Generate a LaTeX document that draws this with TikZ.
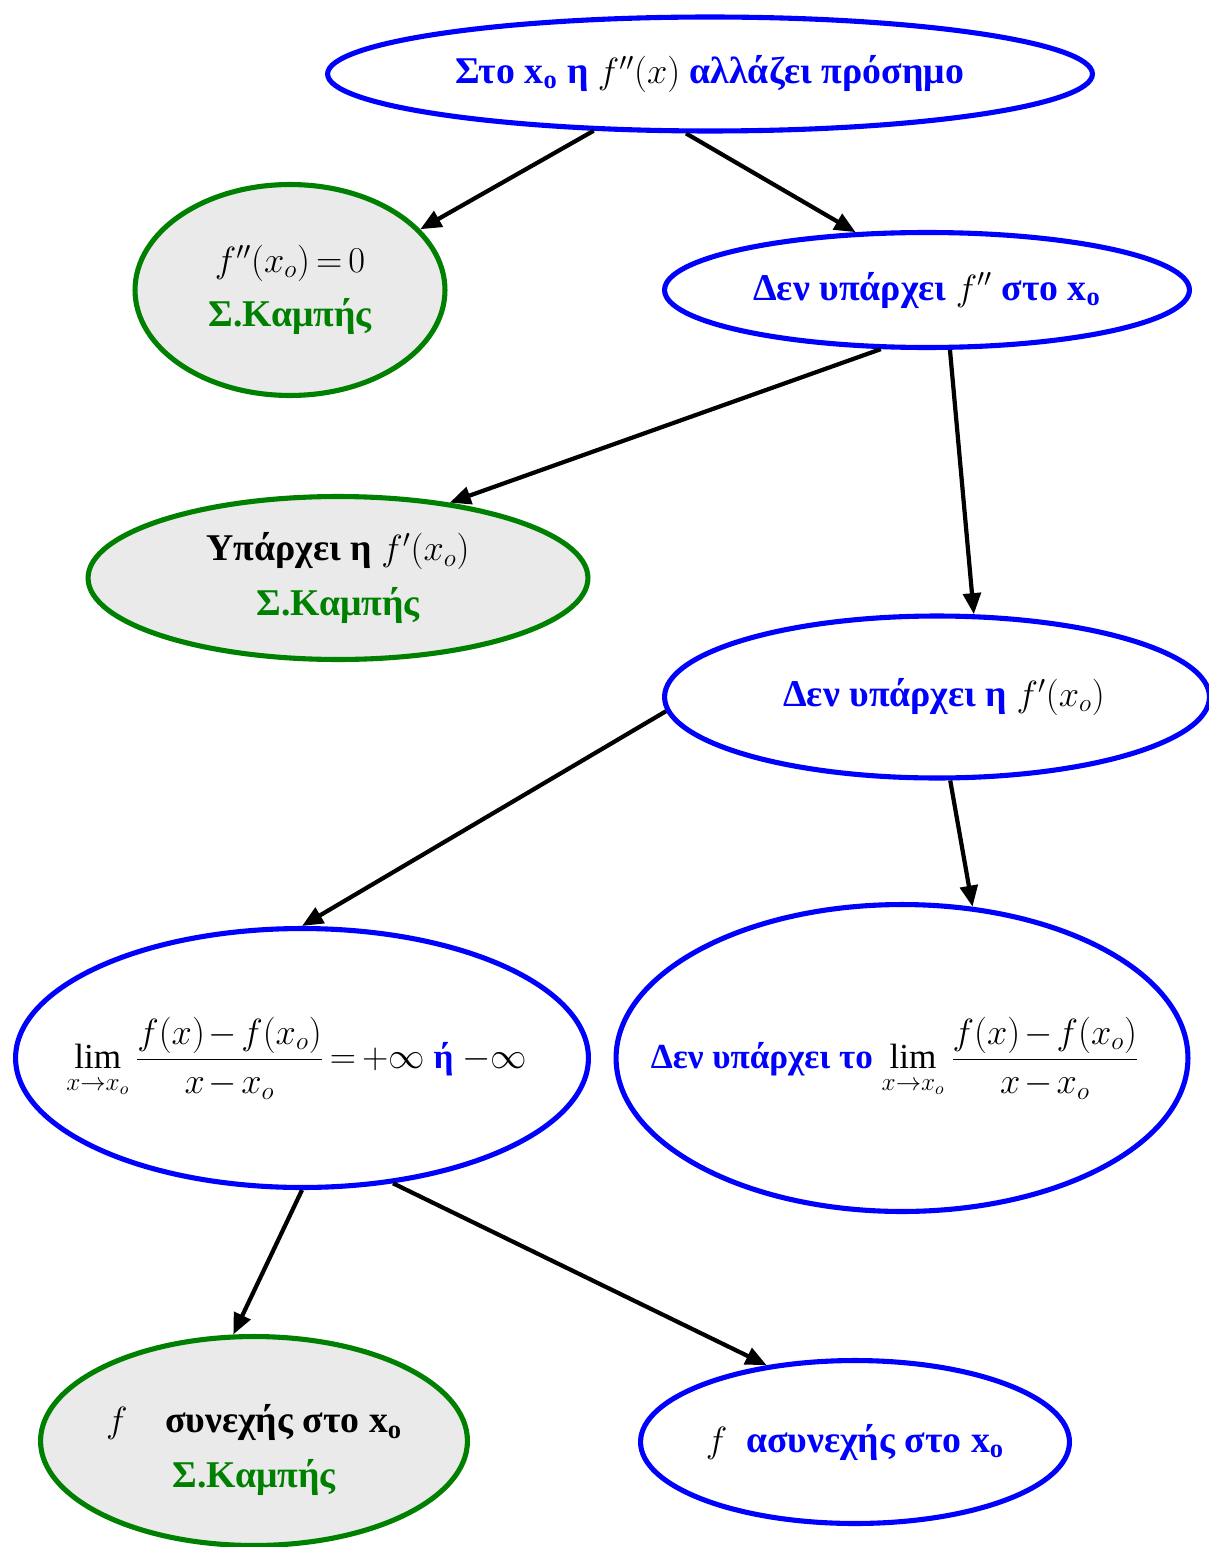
\documentclass[tikz,border=0pt]{standalone}
\usepackage{fontspec}
\setmainfont{Liberation Serif}
\usepackage{amsmath}
\usetikzlibrary{shapes.geometric,arrows.meta}
\newcommand{\noir}[1]{\textcolor{black}{#1}}
\newcommand{\serre}{\medmuskip=2mu\relax\thickmuskip=3mu\relax}
\begin{document}
\begin{tikzpicture}[x=0.02cm,y=-0.02cm,
font=\fontsize{21.5}{27}\selectfont\bfseries\serre,
bulle/.style={ellipse,draw=bleu,line width=2.9pt,inner sep=0pt},
bullevert/.style={bulle,draw=vert,fill=gris},
texte/.style={align=center,text=bleu},
fleche/.style={-{Triangle[length=12pt,width=10pt]},line width=2.4pt}]
\definecolor{bleu}{RGB}{0,0,255}
\definecolor{vert}{RGB}{0,128,0}
\definecolor{gris}{RGB}{234,234,234}
\useasboundingbox (0,0) rectangle (1209,1547);
% les bulles
\node[bulle,minimum width=15.3cm,minimum height=2.28cm] (haut) at (710,74) {};
\node[bullevert,minimum width=6.2cm,minimum height=4.22cm] (zero) at (290,290) {};
\node[bulle,minimum width=10.5cm,minimum height=2.3cm] (pasder2) at (927,290) {};
\node[bullevert,minimum width=10cm,minimum height=3.26cm] (der1) at (338,578) {};
\node[bulle,minimum width=10.9cm,minimum height=3.24cm] (pasder1) at (937,697) {};
\node[bulle,minimum width=11.46cm,minimum height=5.18cm] (infini) at (302,1058) {};
\node[bulle,minimum width=11.44cm,minimum height=6.14cm] (paslim) at (902,1058) {};
\node[bullevert,minimum width=8.54cm,minimum height=4.18cm] (cont) at (254,1441) {};
\node[bulle,minimum width=8.58cm,minimum height=3.26cm] (discont) at (855,1442) {};
% les textes
\node[texte] (t-haut) at (haut) {Στο x\textsubscript{o} η \noir{$f''(x)$} αλλάζει πρόσημο};
\node[texte,text=black] (t-zero) at (zero) {$f''(x_o)=0$\\[4pt]\textcolor{vert}{Σ.Καμπής}};
\node[texte] (t-pasder2) at (pasder2) {Δεν υπάρχει \noir{$f''$} στο x\textsubscript{o}};
\node[texte,text=black] (t-der1) at (der1) {Υπάρχει η $f'(x_o)$\\[4pt]\textcolor{vert}{Σ.Καμπής}};
\node[texte] (t-pasder1) at ([xshift=4pt]pasder1) {Δεν υπάρχει η \noir{$f'(x_o)$}};
\node[texte,font=\fontsize{20}{26}\selectfont\bfseries\serre] (t-infini) at ([xshift=-3pt]infini) {\noir{$\displaystyle\lim_{x\to x_o}\frac{f(x)-f(x_o)}{x-x_o}=+\infty$} ή \noir{$-\infty$}};
\node[texte,font=\fontsize{20}{26}\selectfont\bfseries\serre] (t-paslim) at ([xshift=-4pt]paslim) {Δεν υπάρχει το \noir{$\displaystyle\lim_{x\to x_o}\frac{f(x)-f(x_o)}{x-x_o}$}};
\node[texte,text=black] (t-cont) at ([yshift=-5pt]cont) {$f$\quad συνεχής στο x\textsubscript{o}\\[4pt]\textcolor{vert}{Σ.Καμπής}};
\node[texte] (t-discont) at (discont) {\noir{$f$}\ \ ασυνεχής στο x\textsubscript{o}};
% les fleches
\draw[fleche] (haut.206) -- (zero.25);
\draw[fleche] (haut.248) -- (pasder2.141);
\draw[fleche] (pasder2.232) -- (der1.34);
\draw[fleche] (pasder2.291) -- (pasder1.66);
\draw[fleche] (pasder1.183) -- (infini.north);
\draw[fleche] (pasder1.279) -- (paslim.65);
\draw[fleche] (infini.south) -- (cont.101);
\draw[fleche] (infini.306) -- (discont.139);
\end{tikzpicture}
\end{document}
